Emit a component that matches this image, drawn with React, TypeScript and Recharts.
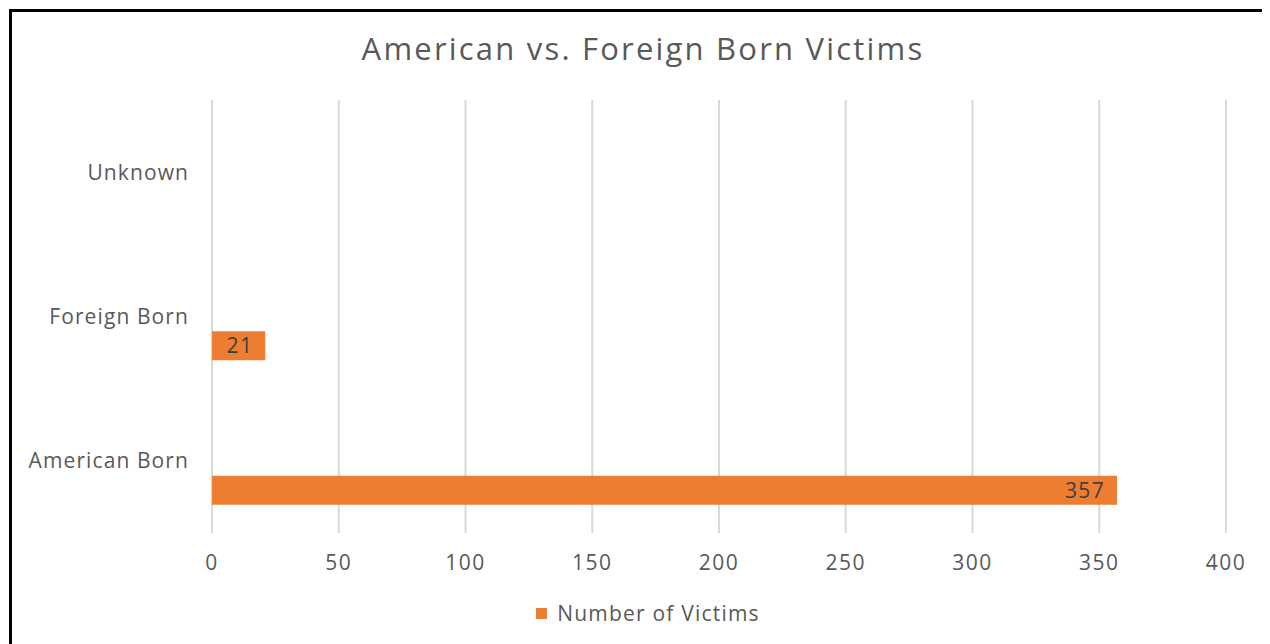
import React from 'react';
import { BarChart, Bar, XAxis, YAxis, CartesianGrid, Legend, LabelList } from 'recharts';

// categories top to bottom, as in the original
const categories = ['Unknown', 'Foreign Born', 'American Born'];
// two empty series sit before the visible one, which is why the bars hang below the labels
const emptySeriesA: (number | null)[] = [null, null, null];
const emptySeriesB: (number | null)[] = [null, null, null];
const victims: (number | null)[] = [null, 21, 357];
const xTicks = [0, 50, 100, 150, 200, 250, 300, 350, 400];

const data = categories.map((name, i) => ({
  name,
  a: emptySeriesA[i],
  b: emptySeriesB[i],
  victims: victims[i],
}));

const FONT = '"Open Sans", sans-serif';
const GREY = '#595959';
const ORANGE = '#ED7D31';

const LegendBox = () => (
  <div style={{ display: 'flex', justifyContent: 'center', alignItems: 'center', height: 30, fontFamily: FONT, paddingLeft: 58 }}>
    <span style={{ width: 11, height: 11, background: ORANGE, marginRight: 10, display: 'inline-block' }} />
    <span style={{ fontSize: 21, color: GREY, letterSpacing: 1.2 }}>Number of Victims</span>
  </div>
);

export default function App() {
  return (
    <div
      style={{
        position: 'relative',
        left: 1,
        top: 1,
        width: 1262,
        height: 636,
        borderTop: '3px solid #000',
        borderLeft: '3px solid #000',
        background: '#fff',
        fontFamily: FONT,
        overflow: 'hidden',
      }}
    >
      <div
        style={{
          position: 'absolute',
          top: 15,
          left: 0,
          width: 1262,
          textAlign: 'center',
          fontSize: 31,
          letterSpacing: 2.2,
          color: GREY,
        }}
      >
        American vs. Foreign Born Victims
      </div>
      <BarChart
        width={1258}
        height={633}
        data={data}
        layout="vertical"
        margin={{ top: 88, right: 44, bottom: 17, left: 0 }}
        barSize={29}
        barGap={0}
      >
        <CartesianGrid horizontal={false} stroke="#d9d9d9" strokeWidth={2} />
        <XAxis
          type="number"
          domain={[0, 400]}
          ticks={xTicks}
          axisLine={false}
          tickLine={false}
          tickSize={0}
          tickMargin={22}
          height={65}
          tick={{ fill: GREY, fontSize: 21, fontFamily: FONT, letterSpacing: 1.5 }}
        />
        <YAxis
          type="category"
          dataKey="name"
          width={200}
          axisLine={false}
          tickLine={false}
          tickSize={0}
          tickMargin={23}
          tick={{ fill: GREY, fontSize: 21, fontFamily: FONT, letterSpacing: 1.1 }}
        />
        <Legend verticalAlign="bottom" content={<LegendBox />} wrapperStyle={{ height: 30 }} />
        <Bar dataKey="a" fill="#5B9BD5" legendType="none" isAnimationActive={false} />
        <Bar dataKey="b" fill="#A5A5A5" legendType="none" isAnimationActive={false} />
        <Bar dataKey="victims" name="Number of Victims" fill={ORANGE} isAnimationActive={false}>
          <LabelList
            dataKey="victims"
            position="insideRight"
            offset={12}
            fill="#404040"
            fontSize={21}
            fontFamily={FONT}
            letterSpacing={1.3}
          />
        </Bar>
      </BarChart>
    </div>
  );
}
